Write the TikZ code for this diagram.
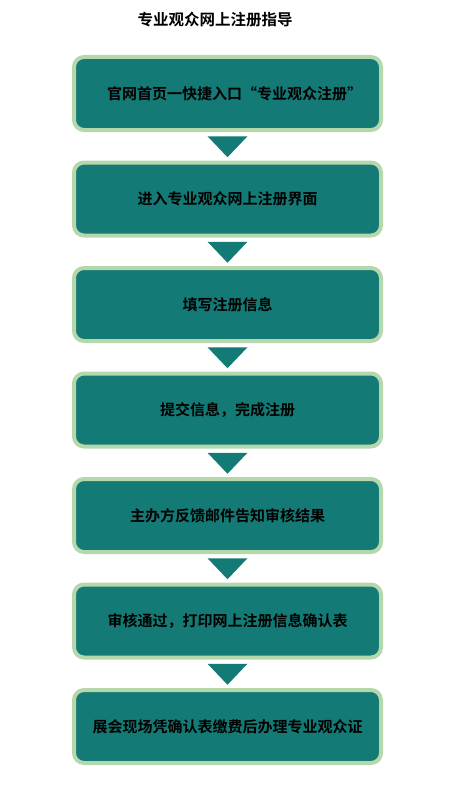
\documentclass[tikz,border=0pt]{standalone}
\usepackage{fontspec}
\usetikzlibrary{calc}
\newfontfamily\cjk{Noto Sans CJK SC Bold}
\definecolor{tealfill}{HTML}{137A75}
\definecolor{paleborder}{HTML}{B4D8AC}
\begin{document}
\begin{tikzpicture}[x=1pt,y=-1pt,
  stepbox/.style={draw=paleborder,line width=4pt,fill=tealfill,rounded corners=10pt,
    minimum width=307pt,minimum height=73pt,inner sep=0pt,font=\cjk\fontsize{15}{18}\selectfont,text=black},
  tri/.style={fill=tealfill,draw=none}]
\useasboundingbox (0,0) rectangle (455,800);
\node[font=\cjk\fontsize{15.5}{18}\selectfont] (title) at (215,20) {专业观众网上注册指导};
\foreach \i/\t in {1/\hspace*{14pt}官网首页一快捷入口“专业观众注册”,2/进入专业观众网上注册界面,3/填写注册信息,4/提交信息，完成注册,5/主办方反馈邮件告知审核结果,6/审核通过，打印网上注册信息确认表,7/展会现场凭确认表缴费后办理专业观众证}{
  \node[stepbox] (b\i) at (227.5,{93.5+105.5*(\i-1)}) {\t};
}
\foreach \i [evaluate=\i as \j using int(\i+1)] in {1,...,6}{
  \coordinate (m\i) at ($(b\i.south)!0.5!(b\j.north)$);
  \fill[tri] ([xshift=-20pt,yshift=10pt]m\i) -- ([xshift=20pt,yshift=10pt]m\i) -- ([yshift=-11pt]m\i) -- cycle;
}
\end{tikzpicture}
\end{document}
